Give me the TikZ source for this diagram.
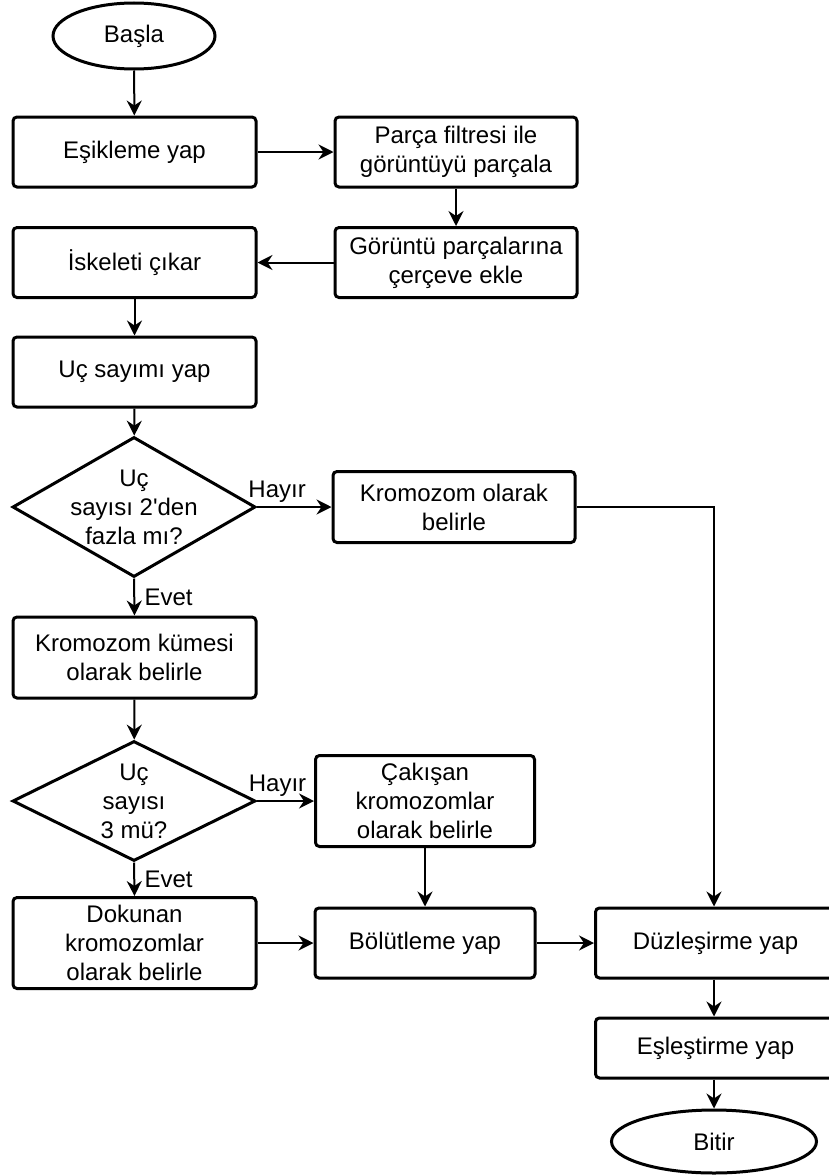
\documentclass[tikz,border=0pt]{standalone}
\usepackage{fontspec}
\setmainfont{Liberation Sans}
\usepackage{tikz}
\usetikzlibrary{positioning,arrows.meta,shapes.geometric}

\begin{document}
\begin{tikzpicture}[x=1pt, y=-1pt,
    font=\fontsize{24}{29}\selectfont,
    box/.style={draw, line width=3pt, rounded corners=4pt, align=center,
        inner sep=0pt, minimum width=243pt, minimum height=70pt},
    terminal/.style={draw, ellipse, line width=3pt, inner sep=0pt},
    decision/.style={draw, diamond, line width=3pt, inner sep=0pt, minimum width=243pt},
    flow/.style={line width=2pt, -{Stealth[length=15pt, width=15pt, inset=5pt]}}]
\useasboundingbox (0,0) rectangle (828,1175);

% Left column
\node[terminal, minimum width=162pt, minimum height=66pt] (basla) at (134,36) {Başla};
\node[box] (esik) at (134.5,152) {Eşikleme yap};
\node[box] (iskelet) at (134.5,262.5) {İskeleti çıkar};
\node[box] (ucsay) at (134.5,372) {Uç sayımı yap};
\node[decision, minimum height=140pt,
    label={[align=center]center:Uç\\sayısı 2\textquotesingle den\\fazla mı?}] (karar1) at (134,507) {};
\node[box, minimum height=81pt] (kume) at (134.5,657.5) {Kromozom kümesi\\olarak belirle};
\node[decision, minimum height=120pt,
    label={[align=center]center:Uç\\sayısı\\3 mü?}] (karar2) at (134,801) {};
\node[box, minimum height=91pt] (dokunan) at (134.5,943) {Dokunan\\kromozomlar\\olarak belirle};

% Middle column
\node[box, minimum width=242pt] (parca) at (456,152) {Parça filtresi ile\\görüntüyü parçala};
\node[box, minimum width=242pt] (cerceve) at (456,262.5) {Görüntü parçalarına\\çerçeve ekle};
\node[box, minimum width=242pt, minimum height=71pt] (kromozom) at (454,507) {Kromozom olarak\\belirle};
\node[box, minimum width=219pt, minimum height=91pt] (cakisan) at (425,801) {Çakışan\\kromozomlar\\olarak belirle};
\node[box, minimum width=220pt] (bolut) at (425,943) {Bölütleme yap};

% Right column (runs past the right edge)
\node[box, minimum width=256pt, anchor=west] (duzles) at (594,943) {\hspace*{-16pt}Düzleşirme yap};
\node[box, minimum width=256pt, minimum height=60pt, anchor=west] (esles) at (594,1048) {\hspace*{-16pt}Eşleştirme yap};
\node[terminal, minimum width=205pt, minimum height=63pt] (bitir) at (714,1141.5) {Bitir};

% Connectors
\draw[flow] (basla) -- (esik);
\draw[flow] (esik) -- (parca);
\draw[flow] (parca) -- (cerceve);
\draw[flow] (cerceve) -- (iskelet);
\draw[flow] (iskelet) -- (ucsay);
\draw[flow] (ucsay) -- (karar1);
\draw[flow] (karar1.east) -- node[pos=0.27, above] {Hayır} (kromozom.west);
\draw[flow] (karar1.south) -- node[midway, right=6pt] {Evet} (kume.north);
\draw[flow] (kromozom.east) -| (bitir.north |- duzles.north);
\draw[flow] (kume) -- (karar2);
\draw[flow] (karar2.east) -- node[pos=0.36, above] {Hayır} (cakisan.west);
\draw[flow] (karar2.south) -- node[midway, right=6pt] {Evet} (dokunan.north);
\draw[flow] (cakisan) -- (bolut);
\draw[flow] (dokunan) -- (bolut);
\draw[flow] (bolut) -- (duzles);
\draw[flow] (bitir.north |- duzles.south) -- (bitir.north |- esles.north);
\draw[flow] (bitir.north |- esles.south) -- (bitir.north);
\end{tikzpicture}
\end{document}
